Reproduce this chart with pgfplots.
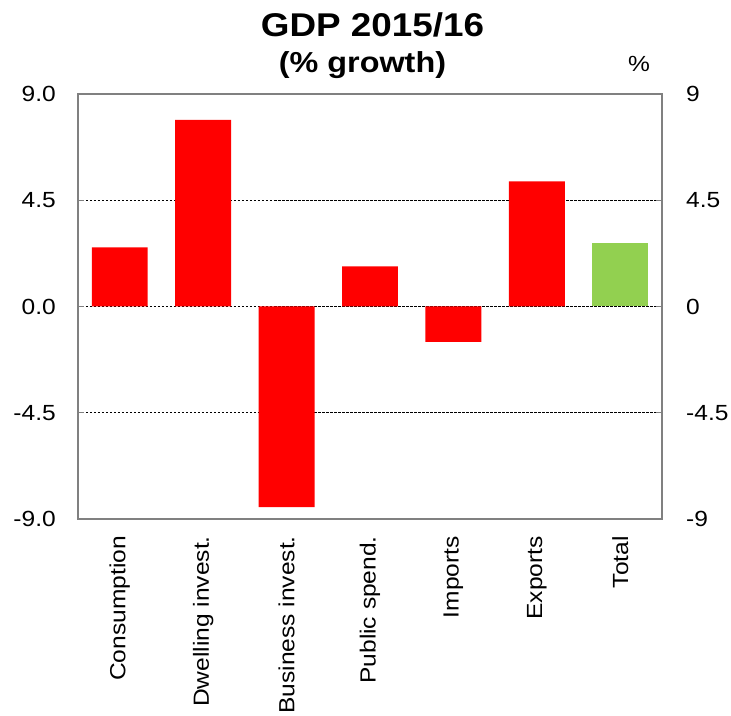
\documentclass[border=0pt]{standalone}
\usepackage{fontspec}
\setmainfont[FakeStretch=1.12]{Liberation Sans}
\usepackage{pgfplots}
\pgfplotsset{compat=1.18}
\definecolor{barred}{RGB}{255,0,0}
\definecolor{bargreen}{RGB}{146,208,80}
\definecolor{framegray}{RGB}{128,128,128}
\begin{document}
\begin{tikzpicture}
\path[use as bounding box] (-78bp,-197bp) rectangle (653bp,519bp);
\begin{axis}[
  at={(0,0)}, anchor=south west,
  scale only axis, width=584bp, height=425bp,
  xmin=-0.5, xmax=6.5, ymin=-9, ymax=9,
  xtick={0,1,2,3,4,5,6},
  xticklabels={Consumption, Dwelling invest., Business invest., Public spend., Imports, Exports, Total},
  xticklabel style={yshift=-11bp, rotate=90, anchor=east, inner sep=0pt, font=\fontsize{22}{24}\selectfont},
  xtick style={draw=none},
  ytick={-9,-4.5,0,4.5,9},
  yticklabels={-9.0,-4.5,0.0,4.5,9.0},
  ytick pos=left,
  yticklabel style={anchor=east, inner sep=0pt, xshift=-22bp, font=\fontsize{22}{24}\selectfont},
  tick align=inside,
  major tick length=6bp,
  ytick style={framegray, line width=1bp},
  ymajorgrids,
  grid style={black, line width=0.8bp, dash pattern=on 2.5bp off 1.5bp},
  axis line style={framegray, line width=2.5bp},
  ybar, bar width=0.67, bar shift=0pt,
]
\addplot[fill=barred, draw=none] coordinates {(0,2.5) (1,7.9) (2,-8.5) (3,1.7) (4,-1.5) (5,5.3)};
\addplot[fill=bargreen, draw=none] coordinates {(6,2.7)};
\end{axis}
\begin{axis}[
  at={(0,0)}, anchor=south west,
  scale only axis, width=584bp, height=425bp,
  xmin=-0.5, xmax=6.5, ymin=-9, ymax=9,
  hide x axis,
  axis y line*=right,
  ytick={-9,-4.5,0,4.5,9},
  yticklabels={-9,-4.5,0,4.5,9},
  yticklabel style={anchor=west, inner sep=0pt, xshift=24bp, font=\fontsize{22}{24}\selectfont},
  tick align=inside,
  major tick length=6bp,
  ytick style={framegray, line width=1bp},
  y axis line style={framegray, line width=2.5bp},
]
\end{axis}
\node[anchor=base, font=\bfseries\fontsize{33}{36}\selectfont] at (294.5bp,482bp) {GDP 2015/16};
\node[anchor=base, font=\bfseries\fontsize{29}{32}\selectfont] at (284.5bp,446bp) {(\% growth)};
\node[anchor=base, font=\fontsize{22}{24}\selectfont] at (561bp,447bp) {\%};
\end{tikzpicture}
\end{document}
